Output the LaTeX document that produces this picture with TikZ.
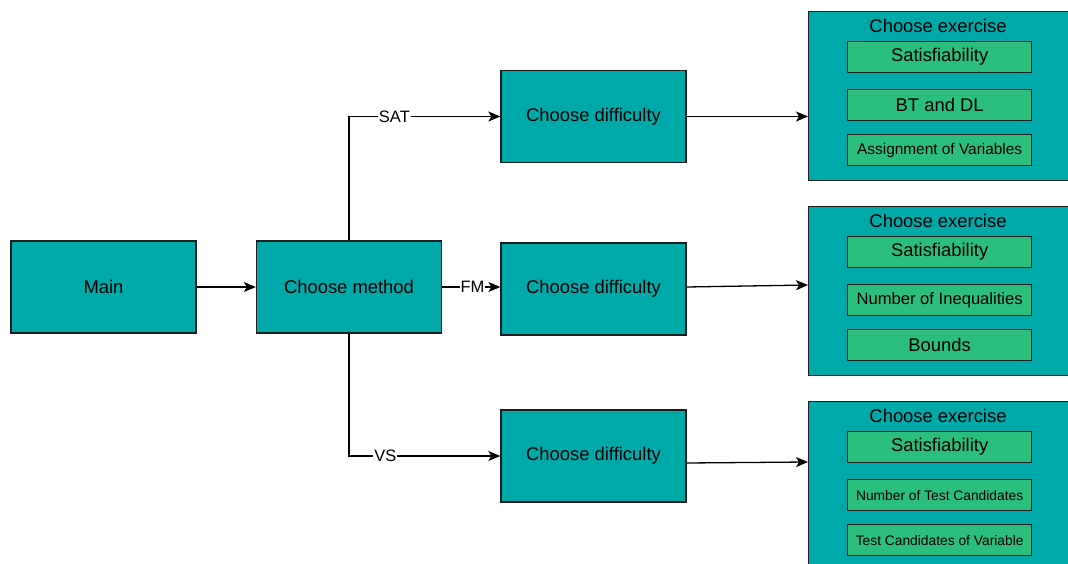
\documentclass[tikz,border=0pt]{standalone}
\usepackage{fontspec}
\setmainfont{Liberation Sans}
\usetikzlibrary{arrows.meta}
\definecolor{boxteal}{RGB}{0,169,169}
\definecolor{leaf}{RGB}{43,190,124}
\definecolor{edge}{RGB}{30,30,30}
\tikzset{
  block/.style={draw=edge, line width=1.3pt, fill=boxteal, inner sep=0pt,
    minimum width=185pt, minimum height=92pt, font=\fontsize{18.4}{20}\selectfont},
  panel/.style={draw=edge, line width=1.3pt, fill=boxteal, inner sep=0pt,
    minimum width=262pt, minimum height=169pt, anchor=north west},
  title/.style={font=\fontsize{18.4}{20}\selectfont, inner sep=0pt},
  choice/.style={draw=edge, line width=1.3pt, fill=leaf, inner sep=0pt,
    minimum width=184pt, minimum height=31pt, anchor=north west},
  big/.style={font=\fontsize{18.4}{20}\selectfont},
  mid/.style={font=\fontsize{16.6}{18}\selectfont},
  small/.style={font=\fontsize{15.4}{17}\selectfont},
  tiny/.style={font=\fontsize{13.8}{15}\selectfont},
  link/.style={draw=black, line width=1.3pt, -{Stealth[length=12pt,width=10pt,inset=3pt]}},
  tag/.style={fill=white, inner sep=1pt, font=\fontsize{16.5}{18}\selectfont}
}
\begin{document}
\begin{tikzpicture}[x=1pt, y=-1pt]
\useasboundingbox (0,0) rectangle (1068,564);
\clip (0,0) rectangle (1068,564);

% main flow
\node[block] (main) at (103.5,287) {Main};
\node[block] (method) at (349,287) {Choose method};
\node[block] (d1) at (593.5,116.5) {Choose difficulty};
\node[block] (d2) at (593.5,289) {Choose difficulty};
\node[block] (d3) at (593.5,456) {Choose difficulty};

% exercise panels
\node[panel] (e1) at (808,11) {};
\node[panel] (e2) at (808,206) {};
\node[panel] (e3) at (808,401) {};

\node[title] (t1) at (938,26) {Choose exercise};
\node[title] (t2) at (938,221) {Choose exercise};
\node[title] (t3) at (938,416) {Choose exercise};

\node[choice, big] (s1) at (847,41) {Satisfiability};
\node[choice, big] (b1) at (847,89) {BT and DL};
\node[choice, small] (a1) at (847,134) {Assignment of Variables};

\node[choice, big] (s2) at (847,236) {Satisfiability};
\node[choice, mid] (n2) at (847,284) {Number of Inequalities};
\node[choice, big] (b2) at (847,329) {Bounds};

\node[choice, big] (s3) at (847,431) {Satisfiability};
\node[choice, tiny] (n3) at (847,479) {Number of Test Candidates};
\node[choice, tiny] (v3) at (847,524) {Test Candidates of Variable};

% connectors
\draw[link] (main) -- (method);
\draw[link] (method.north) |- node[tag, pos=0.65] {SAT} (d1.west);
\draw[link] (method.east) -- node[tag, pos=0.52] {FM} (method.east -| d2.west);
\draw[link] (method.south) |- node[tag, pos=0.62] {VS} (d3.west);

\draw[link] (d1.east) -- (d1.east -| e1.west);
\draw[link] (d2.east |- 0,287) -- (e2.west |- 0,285);
\draw[link] (d3.east |- 0,463) -- (e3.west |- 0,462);
\end{tikzpicture}
\end{document}
